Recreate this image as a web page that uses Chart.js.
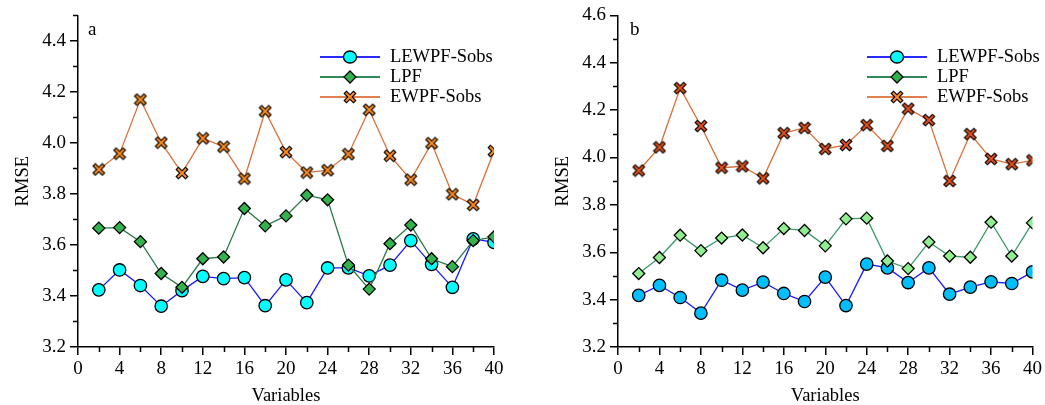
<!DOCTYPE html>
<html lang="en">
<head>
  <meta charset="UTF-8">
  <title>RMSE vs Variables</title>
  <script src="https://cdn.jsdelivr.net/npm/chart.js"></script>
  <style>
    body { margin:0; background:#fff; font-family:"Liberation Serif","Times New Roman","DejaVu Serif",serif; }
    #wrap { position:relative; width:1045px; height:405px; }
    canvas { position:absolute; top:0; }
    #chartA { left:0; }
    #chartB { left:520px; }
  </style>
</head>
<body>
  <div id="wrap">
    <canvas id="chartA" width="520" height="405"></canvas>
    <canvas id="chartB" width="525" height="405"></canvas>
  </div>

  <script>
    const variables = [2,4,6,8,10,12,14,16,18,20,22,24,26,28,30,32,34,36,38,40];
    const seriesNames = ['LEWPF-Sobs','LPF','EWPF-Sobs'];

    // panel a
    const lewpfA = [3.424,3.502,3.441,3.360,3.421,3.477,3.468,3.472,3.362,3.463,3.374,3.510,3.510,3.479,3.521,3.617,3.524,3.434,3.624,3.610];
    const lpfA   = [3.666,3.668,3.613,3.488,3.434,3.546,3.553,3.743,3.675,3.714,3.795,3.777,3.521,3.427,3.605,3.678,3.546,3.515,3.617,3.632];
    const ewpfA  = [3.896,3.958,4.170,4.001,3.882,4.018,3.985,3.860,4.124,3.964,3.884,3.893,3.956,4.130,3.950,3.856,3.999,3.799,3.757,3.968];

    // panel b
    const lewpfB = [3.418,3.460,3.409,3.343,3.482,3.440,3.474,3.426,3.392,3.495,3.375,3.550,3.534,3.472,3.534,3.423,3.453,3.475,3.468,3.517];
    const lpfB   = [3.510,3.578,3.672,3.607,3.660,3.673,3.619,3.700,3.692,3.627,3.741,3.744,3.563,3.531,3.643,3.584,3.579,3.727,3.584,3.724];
    const ewpfB  = [3.945,4.043,4.293,4.133,3.957,3.963,3.912,4.103,4.125,4.036,4.053,4.137,4.049,4.206,4.158,3.901,4.099,3.994,3.972,3.988];

    const yTicksA = [3.2,3.4,3.6,3.8,4.0,4.2,4.4];
    const yTicksB = [3.2,3.4,3.6,3.8,4.0,4.2,4.4,4.6];
    const xTicks  = [0,4,8,12,16,20,24,28,32,36,40];

    const FONT = "'Liberation Serif', 'Times New Roman', serif";
    Chart.defaults.font.family = FONT;
    Chart.defaults.color = '#000';

    function makeCross(fill) {
      const c = document.createElement('canvas');
      c.width = c.height = 14;
      const g = c.getContext('2d');
      const path = () => { g.beginPath(); g.moveTo(3.5,3.5); g.lineTo(10.5,10.5); g.moveTo(10.5,3.5); g.lineTo(3.5,10.5); g.stroke(); };
      g.lineCap = 'square';
      g.strokeStyle = '#000'; g.lineWidth = 4.4; path();
      g.strokeStyle = fill; g.lineWidth = 2; path();
      return c;
    }

    function pts(arr) { return variables.map((x,i)=>({x, y:arr[i]})); }

    // minor ticks + legend + panel letter
    const decor = {
      id:'decor',
      afterDraw(chart, args, o) {
        const ctx = chart.ctx, xs = chart.scales.x, ys = chart.scales.y;
        ctx.save();
        ctx.strokeStyle = '#000'; ctx.lineWidth = 1.5;
        ctx.beginPath();
        for (let v = xs.min; v <= xs.max; v += 2) {
          if (v % 4 === 0) continue;
          const px = Math.round(xs.getPixelForValue(v)) + 0.5;
          ctx.moveTo(px, ys.bottom); ctx.lineTo(px, ys.bottom + 5);
        }
        for (let k = 0; k <= Math.round((ys.max - ys.min) * 10); k++) {
          if (k % 2 === 0) continue;
          const py = Math.round(ys.getPixelForValue(ys.min + k / 10)) + 0.5;
          ctx.moveTo(xs.left, py); ctx.lineTo(xs.left - 5, py);
        }
        ctx.stroke();

        // panel letter
        ctx.fillStyle = '#000';
        ctx.font = `19px ${FONT}`;
        ctx.textBaseline = 'middle';
        ctx.fillText(o.letter, o.letterX, 30);

        // legend
        o.legend.forEach((it, i) => {
          const y = 57 + i * 20;
          ctx.strokeStyle = it.line; ctx.lineWidth = 2;
          ctx.beginPath(); ctx.moveTo(o.lx, y); ctx.lineTo(o.lx + 60, y); ctx.stroke();
          const cx = o.lx + 30;
          ctx.lineWidth = 1.3; ctx.strokeStyle = '#000'; ctx.fillStyle = it.fill;
          if (it.shape === 'circle') {
            ctx.beginPath(); ctx.ellipse(cx, y, 6.5, 6, 0, 0, Math.PI*2); ctx.fill(); ctx.stroke();
          } else if (it.shape === 'diamond') {
            ctx.beginPath(); ctx.moveTo(cx, y-6); ctx.lineTo(cx+6, y); ctx.lineTo(cx, y+6); ctx.lineTo(cx-6, y); ctx.closePath(); ctx.fill(); ctx.stroke();
          } else {
            ctx.drawImage(makeCross(it.fill), cx - 7, y - 7);
          }
          ctx.fillStyle = '#000';
          ctx.font = `18.5px ${FONT}`;
          ctx.fillText(seriesNames[i], o.lx + 70, y);
        });
        ctx.restore();
      }
    };

    function makeChart(id, cfg) {
      const ds = (label, data, line, fill, style, radius) => ({
        label, data: pts(data), borderColor: line, borderWidth: 1.3,
        pointStyle: style, pointRadius: radius, pointHoverRadius: radius,
        pointBackgroundColor: fill, pointBorderColor: '#000', pointBorderWidth: 1.3,
        tension: 0, fill: false
      });
      return new Chart(document.getElementById(id), {
        type: 'line',
        data: { datasets: [
          ds(seriesNames[2], cfg.ewpf, cfg.colors.ewpfLine, cfg.colors.ewpfFill, makeCross(cfg.colors.ewpfFill), 7),
          ds(seriesNames[1], cfg.lpf, cfg.colors.lpfLine, cfg.colors.lpfFill, 'rectRot', 6),
          ds(seriesNames[0], cfg.lewpf, cfg.colors.lewpfLine, cfg.colors.lewpfFill, 'circle', 6.2)
        ]},
        options: {
          responsive: false, animation: false,
          layout: { padding: { top: 15, right: cfg.padRight, left: 0, bottom: 0 } },
          plugins: { legend: { display: false }, tooltip: { enabled: false }, decor: cfg.decor },
          scales: {
            x: {
              type: 'linear', min: 0, max: 40,
              afterBuildTicks: s => { s.ticks = xTicks.map(v => ({ value: v })); },
              afterFit: s => { s.height = 58; },
              border: { color: '#000', width: 1.5 },
              grid: { drawOnChartArea: false, drawTicks: true, tickLength: 8, color: '#000', lineWidth: 1.5 },
              ticks: { color: '#000', padding: 3, maxRotation: 0, font: { family: FONT, size: 19 } },
              title: { display: true, text: 'Variables', color: '#000', padding: { top: 0, bottom: 0 },
                       font: { family: FONT, size: 18.5, lineHeight: 1 } }
            },
            y: {
              min: 3.2, max: cfg.yMax,
              afterBuildTicks: s => { s.ticks = cfg.yTicks.map(v => ({ value: v })); },
              afterFit: s => { s.width = cfg.yWidth; },
              border: { color: '#000', width: 1.5 },
              grid: { drawOnChartArea: false, drawTicks: true, tickLength: 8, color: '#000', lineWidth: 1.5 },
              ticks: { color: '#000', padding: 4, font: { family: FONT, size: 19 }, callback: v => v.toFixed(1) },
              title: { display: true, text: 'RMSE', color: '#000', padding: { top: cfg.titlePad, bottom: 0 },
                       font: { family: FONT, size: 18.5, lineHeight: 1.2 } }
            }
          }
        },
        plugins: [decor]
      });
    }

    const legendItems = [
      { shape: 'circle',  line: '#2a2aff', fill: '#00ffff' },
      { shape: 'diamond', line: '#2e8b57', fill: '#33b34d' },
      { shape: 'cross',   line: '#e08050', fill: '#ff8c1a' }
    ];

    function build() {
      makeChart('chartA', {
        lewpf: lewpfA, lpf: lpfA, ewpf: ewpfA,
        yMax: 4.5, yTicks: yTicksA, yWidth: 78, padRight: 26, titlePad: 12,
        colors: { lewpfLine: '#1a1aff', lewpfFill: '#00ffff', lpfLine: '#2a7a4a', lpfFill: '#33b34d', ewpfLine: '#d9703a', ewpfFill: '#ff8c1a' },
        decor: { letter: 'a', letterX: 88, lx: 320, legend: legendItems }
      });
      makeChart('chartB', {
        lewpf: lewpfB, lpf: lpfB, ewpf: ewpfB,
        yMax: 4.6, yTicks: yTicksB, yWidth: 98, padRight: 10, titlePad: 32,
        colors: { lewpfLine: '#1a1aff', lewpfFill: '#00bfff', lpfLine: '#3a9a6a', lpfFill: '#90ee90', ewpfLine: '#d9703a', ewpfFill: '#e8501a' },
        decor: { letter: 'b', letterX: 110, lx: 347, legend: legendItems }
      });
    }

    document.fonts.load("19px 'Liberation Serif'").then(build, build);
  </script>
</body>
</html>
